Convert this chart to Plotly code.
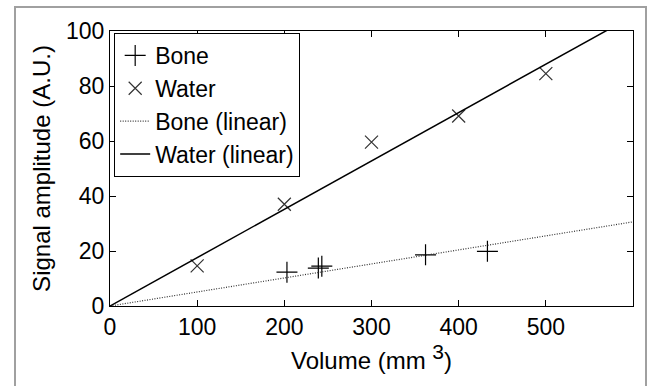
import plotly.graph_objects as go

# Data
bone_x = [203, 239, 243, 362, 433]
bone_y = [12.3, 13.8, 14.5, 18.6, 19.9]
water_x = [100, 200, 300, 400, 500]
water_y = [14.6, 37.0, 59.6, 69.1, 84.5]
bone_fit_x = [0, 600]
bone_fit_y = [0, 30.6]
water_fit_x = [0, 600]
water_fit_y = [0, 105.5]
x_ticks = [0, 100, 200, 300, 400, 500]
y_ticks = [0, 20, 40, 60, 80, 100]

FONT = "Liberation Sans, Arial, Helvetica, sans-serif"

fig = go.Figure()
fig.add_trace(go.Scatter(
    x=bone_x, y=bone_y, mode="markers", name="Bone",
    marker=dict(symbol="cross-thin", size=15, color="black",
                line=dict(color="black", width=1.2)),
))
fig.add_trace(go.Scatter(
    x=water_x, y=water_y, mode="markers", name="Water",
    marker=dict(symbol="x-thin", size=13, color="black",
                line=dict(color="#333333", width=1.2)),
))
fig.add_trace(go.Scatter(
    x=bone_fit_x, y=bone_fit_y, mode="lines", name="Bone (linear)",
    line=dict(color="#333333", width=1.2, dash="1px,1.5px"),
))
fig.add_trace(go.Scatter(
    x=water_fit_x, y=water_fit_y, mode="lines", name="Water (linear)",
    line=dict(color="black", width=1.5),
))

axis_common = dict(
    showgrid=False, zeroline=False, showline=True, linecolor="black",
    linewidth=1, mirror="ticks", ticks="inside", ticklen=6,
    tickcolor="black", tickfont=dict(size=23, color="black", family=FONT),
)
fig.update_xaxes(range=[0, 600], tickvals=x_ticks,
                 title=dict(text="Volume (mm <sup><span style='font-size:21px'>3</span></sup>)",
                            font=dict(size=24, color="black", family=FONT), standoff=6),
                 **axis_common)
fig.update_yaxes(range=[0, 100], tickvals=y_ticks,
                 title=dict(text="Signal amplitude (A.U.)",
                            font=dict(size=24, color="black", family=FONT), standoff=8),
                 **axis_common)

# outer grey frame
fig.add_shape(type="rect", xref="paper", yref="paper",
              x0=(15 - 110) / 523, x1=(646 - 110) / 523,
              y0=-0.6, y1=(306 - 7) / 275,
              line=dict(color="#a0a0a0", width=2), layer="below")

fig.update_layout(
    width=651, height=386,
    margin=dict(l=110, r=18, t=31, b=80),
    paper_bgcolor="white", plot_bgcolor="white",
    font=dict(family=FONT, size=24, color="black"),
    showlegend=True,
    legend=dict(x=0.008, y=0.993, xanchor="left", yanchor="top",
                bgcolor="white", bordercolor="black", borderwidth=1,
                font=dict(size=23, family=FONT, color="black"),
                tracegroupgap=0, itemwidth=30),
)

fig.write_html("out.html", config={"displayModeBar": False},
               post_script="document.body.style.margin='0';")
